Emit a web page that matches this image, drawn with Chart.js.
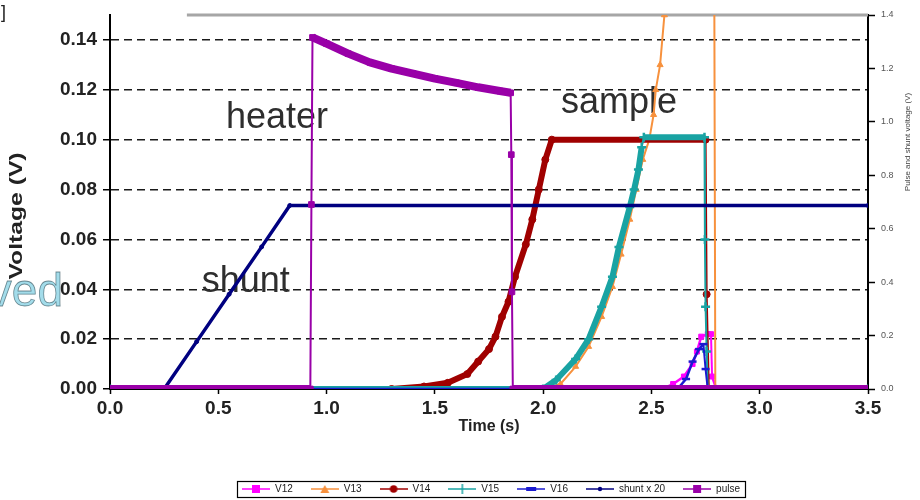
<!DOCTYPE html>
<html>
<head>
<meta charset="utf-8">
<script src="https://cdn.jsdelivr.net/npm/chart.js@4.4.0/dist/chart.umd.min.js"></script>
<style>
  html, body { margin: 0; padding: 0; background: #fff; }
  #wrap { width: 920px; height: 500px; position: relative; }
</style>
</head>
<body>
<div id="wrap"><canvas id="myChart"></canvas></div>
<script>
// time (s) / voltage (V) pairs for each trace
const v12Time = [0, 2.55, 2.6, 2.65, 2.69, 2.71, 2.73, 2.76, 2.775, 2.78, 2.8, 3.5];
const v12Volt = [0, 0, 0.002, 0.005, 0.010, 0.015, 0.021, 0.022, 0.022, 0.005, 0, 0];

const v13Time = [0, 2.0, 2.08, 2.15, 2.21, 2.27, 2.32, 2.36, 2.40, 2.43, 2.46, 2.49, 2.51, 2.52, 2.54, 2.56, 2.58, 2.79, 2.795, 3.5];
const v13Volt = [0, 0, 0.002, 0.009, 0.017, 0.029, 0.041, 0.054, 0.068, 0.080, 0.092, 0.100, 0.110, 0.120, 0.130, 0.150, 0.170, 0.170, 0, 0];

const v14Time = [0, 1.3, 1.45, 1.56, 1.65, 1.70, 1.75, 1.78, 1.81, 1.84, 1.87, 1.92, 1.95, 1.98, 2.01, 2.04, 2.75, 2.755, 2.765, 3.5];
const v14Volt = [0, 0, 0.001, 0.0025, 0.006, 0.011, 0.016, 0.021, 0.029, 0.035, 0.045, 0.058, 0.068, 0.080, 0.092, 0.100, 0.100, 0.038, 0, 0];

const v15Time = [0, 2.0, 2.06, 2.15, 2.21, 2.27, 2.32, 2.35, 2.40, 2.42, 2.44, 2.455, 2.465, 2.745, 2.747, 2.75, 2.755, 2.76, 3.5];
const v15Volt = [0, 0, 0.0036, 0.012, 0.020, 0.033, 0.045, 0.057, 0.073, 0.080, 0.088, 0.097, 0.101, 0.101, 0.060, 0.033, 0.015, 0, 0];

const v16Time = [0, 2.62, 2.66, 2.69, 2.72, 2.74, 2.75, 2.76, 3.5];
const v16Volt = [0, 0, 0.004, 0.011, 0.016, 0.018, 0.008, 0, 0];

const shuntTime = [0, 0.25, 0.4, 0.55, 0.7, 0.83, 3.5];
const shuntVolt = [0, 0, 0.019, 0.038, 0.057, 0.0736, 0.0736];

const pulseTime = [0, 0.925, 0.93, 0.935, 1.0, 1.1, 1.2, 1.3, 1.4, 1.5, 1.6, 1.7, 1.8, 1.85, 1.853, 1.856, 1.86, 2.5, 3.5];
const pulseVolt = [0, 0, 0.074, 0.141, 0.1385, 0.1345, 0.131, 0.1285, 0.1265, 0.1245, 0.1228, 0.121, 0.1195, 0.1188, 0.094, 0.039, 0, 0, 0];

// level on the right-hand axis
const topTime = [0.355, 3.5];
const topVolt = [1.4, 1.4];

const xTicks = [0, 0.5, 1.0, 1.5, 2.0, 2.5, 3.0, 3.5];

const notes = [
  { text: "heater", t: 0.771, v: 0.1048 },
  { text: "sample", t: 2.35, v: 0.1108 },
  { text: "shunt", t: 0.627, v: 0.0388 },
];

const FONT = "'Liberation Sans', Arial, sans-serif";
const PLOT_BOTTOM = 389;

const pts = (ts, vs) => ts.map((t, i) => ({ x: t, y: vs[i] }));

// thick where the trace runs along, thin on the near-vertical jumps
const segWidth = (thick, thin) => ({
  borderWidth: c => (Math.abs(c.p1.x - c.p0.x) < 2.5 ? thin : thick),
});

function legendIcon(color, marker) {
  const c = document.createElement("canvas");
  c.width = 28;
  c.height = 10;
  const g = c.getContext("2d");
  g.strokeStyle = color;
  g.fillStyle = color;
  g.lineWidth = 1.5;
  g.beginPath();
  g.moveTo(0, 5);
  g.lineTo(28, 5);
  g.stroke();
  g.beginPath();
  if (marker === "rect") g.fillRect(10, 1, 8, 8);
  if (marker === "triangle") { g.moveTo(14, 1); g.lineTo(18.5, 9); g.lineTo(9.5, 9); g.closePath(); g.fill(); }
  if (marker === "circle") { g.arc(14, 5, 3.8, 0, Math.PI * 2); g.fill(); }
  if (marker === "cross") { g.moveTo(14, 0); g.lineTo(14, 10); g.stroke(); }
  if (marker === "dash") g.fillRect(9, 3, 10, 4);
  if (marker === "dot") { g.arc(14, 5, 2.2, 0, Math.PI * 2); g.fill(); }
  return c;
}

const series = [
  { label: "V12", t: v12Time, v: v12Volt, color: "#ff00ff", style: "rect", radius: 3.5, thick: 2.5, icon: "rect" },
  { label: "V13", t: v13Time, v: v13Volt, color: "#f7913d", style: "triangle", radius: 3.5, thick: 2, icon: "triangle" },
  { label: "V14", t: v14Time, v: v14Volt, color: "#a00000", style: "circle", radius: 3.5, thick: 6, icon: "circle" },
  { label: "V15", t: v15Time, v: v15Volt, color: "#19a3a3", style: "cross", radius: 4.5, thick: 6, icon: "cross" },
  { label: "V16", t: v16Time, v: v16Volt, color: "#1a1ad0", style: "line", radius: 4, thick: 2.5, icon: "dash" },
  { label: "shunt x 20", t: shuntTime, v: shuntVolt, color: "#000080", style: "circle", radius: 2, thick: 3.5, icon: "dot" },
  { label: "pulse", t: pulseTime, v: pulseVolt, color: "#9900a8", style: "rect", radius: 4, thick: 8, icon: "rect" },
];

const datasets = series.map((s, i) => ({
  label: s.label,
  data: pts(s.t, s.v),
  yAxisID: "y",
  borderColor: s.color,
  backgroundColor: s.color,
  pointStyle: s.style,
  pointRadius: s.radius,
  pointBorderWidth: s.style === "cross" || s.style === "line" ? 2.5 : 1,
  borderJoinStyle: "round",
  segment: segWidth(s.thick, 2),
  order: series.length - i,
}));

datasets.push({
  label: "",
  data: pts(topTime, topVolt),
  yAxisID: "y2",
  borderColor: "#a6a6a6",
  borderWidth: 3,
  pointRadius: 0,
  clip: false,
  order: 10,
});

const icons = series.map(s => legendIcon(s.color, s.icon));

// notes over the plot, placed by data value
const noteLayer = {
  id: "noteLayer",
  beforeDatasetsDraw(chart) {
    const { ctx, scales } = chart;
    ctx.save();
    ctx.font = "36px " + FONT;
    ctx.fillStyle = "#2e2e2e";
    ctx.textAlign = "center";
    ctx.textBaseline = "alphabetic";
    notes.forEach(n => ctx.fillText(n.text, scales.x.getPixelForValue(n.t), scales.y.getPixelForValue(n.v)));
    ctx.restore();
  },
  afterDraw(chart) {
    const { ctx, scales } = chart;
    // left axis title, drawn long and upright-reading
    ctx.save();
    ctx.translate(17, 216);
    ctx.rotate(-Math.PI / 2);
    ctx.scale(1.3, 1);
    ctx.font = "bold 19px " + FONT;
    ctx.fillStyle = "#222";
    ctx.textAlign = "center";
    ctx.textBaseline = "middle";
    ctx.fillText("Voltage (V)", 0, 0);
    ctx.restore();

    ctx.save();
    // right axis title, reading upwards
    ctx.translate(scales.y2.right - 12, 142);
    ctx.rotate(-Math.PI / 2);
    ctx.font = "8px " + FONT;
    ctx.fillStyle = "#444";
    ctx.textAlign = "center";
    ctx.textBaseline = "middle";
    ctx.fillText("Pulse and shunt voltage (V)", 0, 0);
    ctx.restore();

    ctx.save();
    ctx.font = "46px " + FONT;
    ctx.textAlign = "right";
    ctx.textBaseline = "alphabetic";
    ctx.lineWidth = 0.8;
    ctx.strokeStyle = "rgba(40,70,80,0.6)";
    ctx.fillStyle = "#a3dcea";
    ctx.fillText("roved", 63, 306);
    ctx.strokeText("roved", 63, 306);
    ctx.font = "18px " + FONT;
    ctx.fillStyle = "#222";
    ctx.textAlign = "left";
    ctx.fillText("]", 1, 18);
    ctx.restore();
  },
};

// legend sits a little right of centre and a bit lower
const legendNudge = {
  id: "legendNudge",
  afterLayout(chart) {
    const lg = chart.legend;
    lg.left += 31;
    lg.right += 31;
    lg.top += 4;
    lg.bottom += 4;
  },
};

// frame round the legend entries
const legendFrame = {
  id: "legendFrame",
  afterDraw(chart) {
    const boxes = chart.legend.legendHitBoxes;
    if (!boxes || !boxes.length) return;
    const l = Math.min(...boxes.map(b => b.left)) - 5;
    const r = Math.max(...boxes.map(b => b.left + b.width)) + 5;
    const t = Math.min(...boxes.map(b => b.top)) - 3;
    const b = Math.max(...boxes.map(bx => bx.top + bx.height)) + 3;
    const ctx = chart.ctx;
    ctx.save();
    ctx.strokeStyle = "#000";
    ctx.lineWidth = 1.2;
    ctx.strokeRect(Math.round(l) + 0.5, Math.round(t) + 0.5, Math.round(r - l), Math.round(b - t));
    ctx.restore();
  },
};

const noEdgePadding = s => { s.paddingTop = 0; s.paddingBottom = 0; };

new Chart(document.getElementById("myChart"), {
  type: "line",
  data: { datasets },
  options: {
    responsive: true,
    maintainAspectRatio: false,
    animation: false,
    devicePixelRatio: 1,
    layout: { padding: { top: 15, bottom: 0, left: 0, right: 0 } },
    elements: { line: { tension: 0 } },
    plugins: {
      tooltip: { enabled: false },
      legend: {
        position: "bottom",
        labels: {
          usePointStyle: true,
          pointStyleWidth: 28,
          boxHeight: 10,
          padding: 18,
          color: "#222",
          font: { family: FONT, size: 10 },
          filter: item => item.datasetIndex < series.length,
          sort: (a, b) => a.datasetIndex - b.datasetIndex,
          generateLabels(chart) {
            return Chart.defaults.plugins.legend.labels.generateLabels(chart).map(item => {
              item.pointStyle = icons[item.datasetIndex] || "line";
              return item;
            });
          },
        },
      },
    },
    scales: {
      x: {
        type: "linear",
        min: 0,
        max: 3.5,
        afterBuildTicks: s => { s.ticks = xTicks.map(v => ({ value: v })); },
        ticks: {
          callback: v => v.toFixed(1),
          font: { family: FONT, size: 19, weight: "bold" },
          color: "#222",
          padding: 3,
          maxRotation: 0,
        },
        grid: { drawOnChartArea: false, tickLength: 5, tickColor: "#000", tickWidth: 1.5 },
        border: { color: "#000", width: 2 },
        title: {
          display: true,
          text: "Time (s)",
          color: "#222",
          font: { family: FONT, size: 16, weight: "bold" },
          padding: { top: 0, bottom: 26 },
        },
        // pin the bottom of the plot whatever the legend takes
        afterFit: s => { s.height = s.chart.height - PLOT_BOTTOM - s.chart.legend.height; },
      },
      y: {
        position: "left",
        min: 0,
        max: 0.15,
        afterBuildTicks: s => { s.ticks = s.ticks.filter(t => t.value < 0.1405); },
        ticks: {
          stepSize: 0.02,
          callback: v => v.toFixed(2),
          font: { family: FONT, size: 19, weight: "bold" },
          color: "#222",
          padding: 6,
        },
        grid: {
          color: c => (c.tick && c.tick.value > 0.001 ? "#1a1a1a" : "rgba(0,0,0,0)"),
          lineWidth: 1.5,
          tickLength: 7,
          tickColor: "#000",
          tickWidth: 1.5,
          tickBorderDash: [1, 0],
        },
        border: { color: "#000", width: 2, dash: [8, 5] },
        afterFit: s => { s.width = 110; noEdgePadding(s); },
      },
      y2: {
        position: "right",
        min: 0,
        max: 1.4,
        ticks: {
          stepSize: 0.2,
          callback: v => v.toFixed(1),
          font: { family: FONT, size: 9 },
          color: "#555",
          padding: 6,
        },
        grid: { drawOnChartArea: false, tickLength: 7, tickColor: "#000", tickWidth: 1.5 },
        border: { color: "#000", width: 2 },
        afterFit: s => { s.width = 52; noEdgePadding(s); },
      },
    },
  },
  plugins: [noteLayer, legendNudge, legendFrame],
});
</script>
</body>
</html>
